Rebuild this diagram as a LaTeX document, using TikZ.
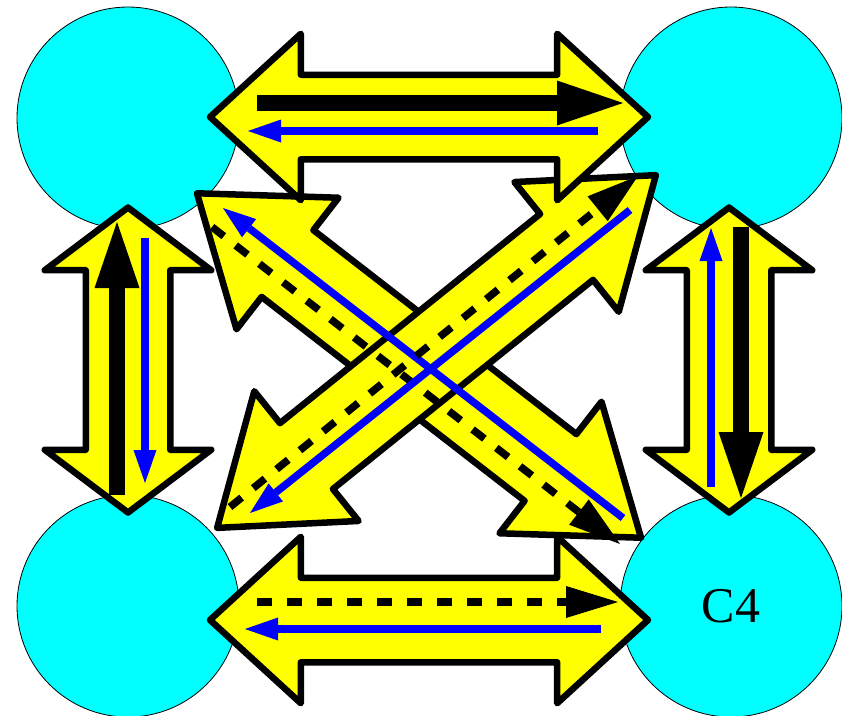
\documentclass[tikz,border=0pt]{standalone}
\usepackage{fontspec}
\setmainfont{Liberation Serif}
\usetikzlibrary{arrows.meta,shapes.arrows}
\definecolor{sea}{HTML}{00FFFF}
\definecolor{sun}{HTML}{FFFF00}
\definecolor{deepblue}{HTML}{0000FF}
\tikzset{
  site/.style={circle,draw=black,line width=0.8pt,fill=sea,minimum size=222pt,inner sep=0pt,font=\fontsize{50}{60}\selectfont},
  fat/.style={double arrow,draw=black,fill=sun,line width=6.5pt,line join=round,inner xsep=0pt,inner ysep=39pt,minimum width=160pt,double arrow head extend=41pt},
  heavy/.style={-{Triangle[length=66pt,width=45pt,line width=0pt]},draw=black,line width=15.5pt},
  dashflow/.style={-{Triangle[length=52pt,width=32pt,line width=0pt]},draw=black,line width=7.5pt,dash pattern=on 15pt off 15pt},
  blueflow/.style={-{Triangle[length=33pt,width=23pt,line width=0pt]},draw=deepblue,line width=7.5pt}}
\begin{document}
\begin{tikzpicture}[x=1pt,y=-1pt]
  \useasboundingbox (0,0) rectangle (842,715);
  \node[site] (c1) at (128,118) {};
  \node[site] (c2) at (731,118) {};
  \node[site] (c3) at (128,606) {};
  \node[site] (c4) at (731,606) {C4};
  \node[fat,rotate=90,minimum height=305pt,double arrow tip angle=106] (left) at (128,360) {};
  \node[fat,rotate=90,minimum height=305pt,double arrow tip angle=106] (right) at (729,360) {};
  \node[fat,rotate=-37.8,minimum height=562pt,double arrow tip angle=72] (fall) at (419,365.5) {};
  \node[fat,rotate=38.8,minimum height=563pt,double arrow tip angle=72] (rise) at (436.5,351.5) {};
  \node[fat,minimum height=438pt,double arrow tip angle=85] (bottom) at (429,620) {};
  \node[fat,minimum height=438pt,double arrow tip angle=85] (top) at (429,117) {};
  \coordinate (topk0) at (257,103);  \coordinate (topk1) at (623,103);
  \coordinate (topb0) at (598,131);  \coordinate (topb1) at (248,131);
  \coordinate (botk0) at (257,602);  \coordinate (botk1) at (618,602);
  \coordinate (botb0) at (601,629);  \coordinate (botb1) at (245,629);
  \coordinate (lefk0) at (117,495);  \coordinate (lefk1) at (117,222);
  \coordinate (lefb0) at (145,238);  \coordinate (lefb1) at (145,483);
  \coordinate (rigk0) at (741,227);  \coordinate (rigk1) at (741,498);
  \coordinate (rigb0) at (711,487);  \coordinate (rigb1) at (711,228);
  \coordinate (falk0) at (212,227);  \coordinate (falk1) at (620,544);
  \coordinate (falb0) at (623,518);  \coordinate (falb1) at (223,208);
  \coordinate (risk0) at (230,507);  \coordinate (risk1) at (638,176);
  \coordinate (risb0) at (630,210);  \coordinate (risb1) at (250,513);
  \draw[heavy] (topk0) -- (topk1);
  \draw[blueflow] (topb0) -- (topb1);
  \draw[dashflow] (botk0) -- (botk1);
  \draw[blueflow] (botb0) -- (botb1);
  \draw[heavy] (lefk0) -- (lefk1);
  \draw[blueflow] (lefb0) -- (lefb1);
  \draw[heavy] (rigk0) -- (rigk1);
  \draw[blueflow] (rigb0) -- (rigb1);
  \draw[dashflow] (falk0) -- (falk1);
  \draw[blueflow] (falb0) -- (falb1);
  \draw[dashflow] (risk0) -- (risk1);
  \draw[blueflow] (risb0) -- (risb1);
\end{tikzpicture}
\end{document}
